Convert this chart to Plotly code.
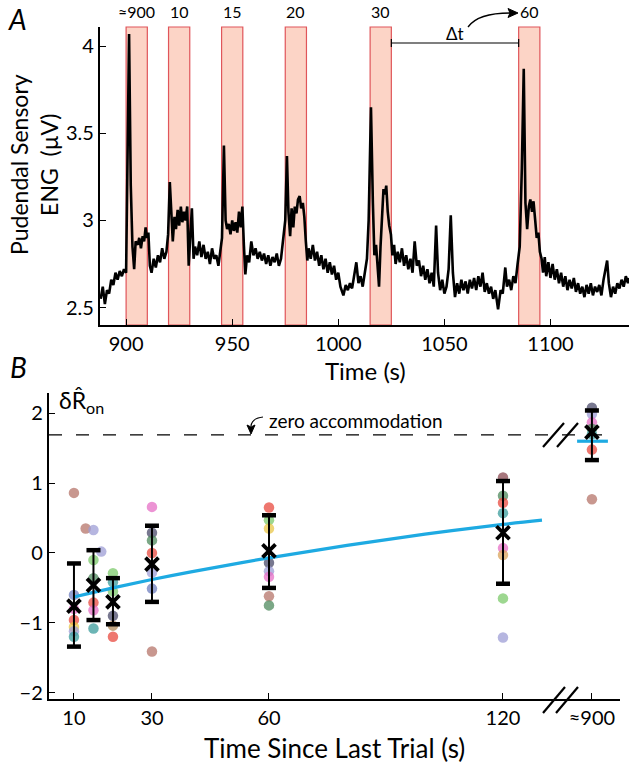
import plotly.graph_objects as go

W, H = 633, 766
FONT = "Lato"

# ---------------- Panel A data ----------------
eng_t = [888, 889, 890, 891, 892, 893, 894, 895, 896, 897, 898, 899, 900, 900.7, 901.4, 902.2, 903, 903.8, 904.5,
         905.5, 906.2, 907, 907.8, 908.5, 909.2, 909.8, 910.5, 911.2, 912, 913, 914, 915, 916, 917, 918, 919, 919.8,
         920.6, 921.3, 922, 922.8, 923.5, 924.3, 925, 925.8, 926.5, 927.3, 928, 928.8, 929.5, 930.2, 931, 931.8,
         932.5, 933.5, 934.5, 935.5, 936.5, 937.5, 938.5, 939.5, 940.5, 941.5, 942.5, 943.5, 944.5, 945.2, 946.1,
         946.9, 947.6, 948.4, 949.2, 950, 950.8, 951.6, 952.4, 953.2, 954, 954.8, 955.5, 956.2, 957, 958, 959, 960,
         961, 962, 963, 964, 965, 966, 967, 968, 969, 970, 971, 972, 973, 974, 975, 975.8, 976.5, 977.3, 978, 978.8,
         979.5, 980.3, 981, 981.8, 982.5, 983.3, 984, 984.7, 985.4, 986, 987, 988, 989, 990, 991, 992, 993, 994, 995,
         996, 997, 998, 999, 1000, 1001, 1002.4, 1003.5, 1004.5, 1005.5, 1006.5, 1007.5, 1008.5, 1009.5, 1010.5,
         1011.5, 1012.5, 1013.5, 1014.3, 1015.4, 1016.3, 1017, 1017.8, 1018.5, 1019.2, 1019.9, 1020.6, 1021.3, 1022,
         1022.6, 1023.3, 1024, 1024.8, 1025.5, 1026.3, 1027, 1028, 1029, 1030, 1031, 1032, 1033, 1034, 1035, 1036,
         1037, 1038, 1039, 1040, 1041, 1042, 1043, 1044, 1045, 1046.1, 1047, 1048, 1049, 1050, 1051, 1052, 1053,
         1054, 1055, 1056, 1057, 1058, 1059, 1060, 1061, 1062, 1063, 1064, 1065, 1066, 1067, 1068, 1069, 1070, 1071,
         1072, 1073, 1074, 1075.3, 1076.5, 1077.5, 1078.7, 1079.5, 1080.5, 1081.5, 1082.5, 1083.5, 1084.5, 1085.5,
         1086.5, 1087.4, 1088.2, 1089, 1089.8, 1090.5, 1091.3, 1092, 1092.8, 1093.5, 1094.3, 1095, 1095.8, 1096.5,
         1097.3, 1098, 1099, 1100, 1101, 1102, 1103, 1104, 1105, 1106, 1107, 1108, 1109, 1110, 1111, 1112, 1113,
         1114, 1115, 1116, 1117, 1118, 1119, 1120, 1121, 1122, 1123, 1124, 1125, 1126.7, 1127.5, 1128.5, 1129.5,
         1130.5, 1131.5, 1132.5, 1133.5, 1134.5, 1135.5, 1136.5, 1137]
eng_v = [2.55, 2.62, 2.52, 2.60, 2.58, 2.66, 2.63, 2.70, 2.66, 2.71, 2.68, 2.72, 2.70, 3.3, 4.07, 3.2, 2.85, 2.72, 2.88,
         2.86, 2.90, 2.84, 2.91, 2.88, 2.96, 2.90, 2.93, 2.74, 2.70, 2.78, 2.73, 2.80, 2.76, 2.84, 2.78, 2.82, 2.92,
         3.22, 3.05, 2.88, 3.02, 2.95, 3.06, 2.97, 3.08, 2.99, 3.05, 3.00, 3.08, 2.74, 2.90, 3.07, 2.78,
         2.85, 2.80, 2.88, 2.79, 2.86, 2.78, 2.82, 2.75, 2.84, 2.78, 2.80, 2.74, 2.82, 2.90, 3.43,
         3.0, 2.95, 2.98, 2.92, 3.00, 2.94, 2.99, 2.93, 3.05, 2.96, 3.08, 2.86, 2.69, 2.80, 2.76, 2.88, 2.80,
         2.84, 2.78, 2.82, 2.77, 2.81, 2.75, 2.80, 2.74, 2.79, 2.76, 2.81, 2.74, 2.78, 2.88, 3.0, 3.37, 3.05, 2.91, 3.07, 2.96,
         3.08, 3.04, 3.12, 3.14, 3.07, 3.10, 3.02, 2.88, 2.77, 2.84, 2.78, 2.86, 2.77, 2.82, 2.74, 2.80, 2.72, 2.78, 2.70,
         2.76, 2.69, 2.74, 2.66, 2.70, 2.62, 2.57, 2.63, 2.60, 2.64, 2.61, 2.70, 2.76, 2.64, 2.68,
         2.62, 2.70, 2.78, 3.0, 3.65, 3.1, 2.80, 2.86, 2.70, 2.62, 2.85, 3.05, 3.18, 3.15,
         3.20, 3.05, 2.97, 2.92, 2.80, 2.86, 2.75, 2.82, 2.76, 2.84, 2.74, 2.80, 2.72, 2.78, 2.70, 2.88,
         2.74, 2.77, 2.68, 2.74, 2.66, 2.72, 2.64, 2.70, 2.62, 2.97, 2.70, 2.60, 2.66, 2.58, 2.62, 2.72, 3.03,
         2.70, 2.56, 2.64, 2.58, 2.66, 2.60, 2.65, 2.58, 2.66, 2.61, 2.67, 2.60, 2.68, 2.62, 2.70, 2.59, 2.64, 2.58,
         2.62, 2.55, 2.60, 2.49, 2.60, 2.58, 2.73, 2.62, 2.66, 2.60, 2.68, 2.64, 2.75, 2.85,
         3.3, 3.87, 3.1, 2.95, 3.08, 3.12, 3.05, 3.11, 3.0, 2.90, 2.93, 2.82, 2.78, 2.70,
         2.79, 2.68, 2.76, 2.67, 2.75, 2.66, 2.72, 2.64, 2.70, 2.62, 2.68, 2.60, 2.66, 2.61, 2.67, 2.59, 2.64,
         2.58, 2.62, 2.56, 2.63, 2.58, 2.64, 2.57, 2.62, 2.59, 2.63, 2.57, 2.66, 2.77, 2.64, 2.56, 2.62,
         2.58, 2.64, 2.61, 2.66, 2.62, 2.68, 2.64, 2.67]

band_start = [900, 920, 945, 975, 1015, 1085]
band_end = [910, 930, 955, 985, 1025, 1095]
band_labels = ["≈900", "10", "15", "20", "30", "60"]

a_xticks = [900, 950, 1000, 1050, 1100]
a_yticks = [2.5, 3, 3.5, 4]
a_yticktext = ["2.5", "3", "3.5", "4"]

# ---------------- Panel B data ----------------
col_x = [10, 15, 20, 30, 60, 120, 142.8]
b_xticks = [10, 30, 60, 120, 142.8]
b_xticktext = ["10", "30", "60", "120", "≈900"]

dots_x = [10, 10, 10, 10, 10, 10, 10,
          13, 15, 17, 15, 15, 15, 15, 15,
          20, 20, 20, 20, 20, 20,
          30, 30, 30, 30, 30, 30, 30,
          60, 60, 60, 60, 60, 60, 60, 60,
          120, 120, 120, 120, 120, 120, 120, 120,
          142.8, 142.8, 142.8, 142.8, 142.8, 142.8, 142.8]
dots_y = [0.86, -0.60, -0.80, -0.96, -1.06, -1.12, -1.20,
          0.35, 0.33, 0.02, -0.10, -0.36, -0.71, -0.82, -1.08,
          -0.29, -0.42, -0.55, -0.90, -1.04, -1.20,
          0.66, 0.29, 0.18, 0.00, -0.28, -0.51, -1.41,
          0.65, 0.47, 0.35, -0.14, -0.26, -0.34, -0.62, -0.75,
          1.08, 0.82, 0.72, 0.57, 0.07, -0.03, -0.65, -1.21,
          2.08, 1.99, 1.87, 1.78, 1.70, 1.48, 0.77]
dots_c = ["#b5746a", "#6f7fbf", "#e66fc6", "#e84a3f", "#e8c547", "#9e9ed6", "#3b9c9c",
          "#b5746a", "#9e9ed6", "#9e9ed6", "#7cc96b", "#4f8a5e", "#e84a3f", "#e66fc6", "#3b9c9c",
          "#7cc96b", "#3b9c9c", "#7cc96b", "#4b4b6b", "#b08a5a", "#e84a3f",
          "#e66fc6", "#4b4b6b", "#4f8a5e", "#e84a3f", "#9e9ed6", "#6f7fbf", "#b5746a",
          "#e84a3f", "#7cc96b", "#e8c547", "#4b4b6b", "#9e9ed6", "#e66fc6", "#b5746a", "#4f8a5e",
          "#8a4a52", "#4f8a5e", "#e84a3f", "#3b9c9c", "#e66fc6", "#d9a35b", "#7cc96b", "#9e9ed6",
          "#4b4b6b", "#9e9ed6", "#e66fc6", "#4f8a5e", "#3b9c9c", "#e84a3f", "#b5746a"]

mean_y = [-0.76, -0.46, -0.70, -0.16, 0.03, 0.29, 1.73]
err_hi = [-0.15, 0.04, -0.36, 0.39, 0.54, 1.03, 2.04]
err_lo = [-1.34, -0.96, -1.02, -0.70, -0.50, -0.44, 1.33]

fit_x = [10, 20, 30, 40, 60, 80, 100, 120, 130]
fit_y = [-0.63, -0.50, -0.38, -0.27, -0.07, 0.11, 0.27, 0.41, 0.47]
fit900_x = [139.0, 146.9]
fit900_y = [1.60, 1.60]
zero_acc = 1.69


def px(x):
    return x / W


def py(y):
    return 1 - y / H


fig = go.Figure()

# Panel A trace
fig.add_trace(go.Scatter(x=eng_t, y=eng_v, mode="lines", line=dict(color="black", width=2.6),
                         xaxis="x", yaxis="y", showlegend=False, hoverinfo="skip"))

# Panel B
fig.add_trace(go.Scatter(x=dots_x, y=dots_y, mode="markers", xaxis="x2", yaxis="y2", showlegend=False,
                         marker=dict(size=10.5, color=dots_c, opacity=0.75, line=dict(width=0))))
fig.add_trace(go.Scatter(x=[3.6, 147.4], y=[zero_acc, zero_acc], mode="lines", xaxis="x2", yaxis="y2",
                         showlegend=False, line=dict(color="black", width=1.3, dash="13px,14px")))
fig.add_trace(go.Scatter(x=fit_x, y=fit_y, mode="lines", xaxis="x2", yaxis="y2", showlegend=False,
                         line=dict(color="#1eaae2", width=3.2, shape="spline")))
fig.add_trace(go.Scatter(x=fit900_x, y=fit900_y, mode="lines", xaxis="x2", yaxis="y2", showlegend=False,
                         line=dict(color="#1eaae2", width=3.2)))
err_plus = [h - m for h, m in zip(err_hi, mean_y)]
err_minus = [m - l for m, l in zip(mean_y, err_lo)]
fig.add_trace(go.Scatter(x=col_x, y=mean_y, mode="markers", xaxis="x2", yaxis="y2", showlegend=False,
                         marker=dict(size=0.1, color="black"),
                         error_y=dict(type="data", array=err_plus, arrayminus=err_minus, symmetric=False,
                                      color="black", thickness=2, width=0)))
fig.add_trace(go.Scatter(x=col_x + col_x, y=err_hi + err_lo, mode="markers", xaxis="x2", yaxis="y2",
                         showlegend=False,
                         marker=dict(symbol="line-ew-open", size=10, color="black",
                                     line=dict(color="black", width=4.5))))
fig.add_trace(go.Scatter(x=col_x, y=mean_y, mode="markers", xaxis="x2", yaxis="y2", showlegend=False,
                         marker=dict(symbol="x-thin-open", size=13, color="black",
                                     line=dict(color="black", width=3.8))))

shapes = []
for s, e in zip(band_start, band_end):
    shapes.append(dict(type="rect", xref="x", yref="y domain", x0=s, x1=e, y0=0, y1=1,
                       fillcolor="#fcd4c6", line=dict(color="#e0555a", width=1.2), layer="below"))

# Δt bracket
yb = py(43)
shapes.append(dict(type="line", xref="x", yref="paper", x0=band_end[4], x1=band_start[5], y0=yb, y1=yb,
                   line=dict(color="black", width=1.2)))
for xv in [band_end[4], band_start[5]]:
    shapes.append(dict(type="line", xref="x", yref="paper", x0=xv, x1=xv, y0=py(39), y1=py(47),
                       line=dict(color="black", width=1.2)))
# curved arrow to "60"
shapes.append(dict(type="path", xref="paper", yref="paper",
                   path=f"M {px(468)},{py(27)} Q {px(478)},{py(13)} {px(510)},{py(13)}",
                   line=dict(color="black", width=1.3)))
shapes.append(dict(type="path", xref="paper", yref="paper",
                   path=f"M {px(518)},{py(13)} L {px(508)},{py(8.5)} L {px(510)},{py(13)} L {px(508)},{py(17.5)} Z",
                   fillcolor="black", line=dict(color="black", width=1)))
# curved arrow for zero accommodation
shapes.append(dict(type="path", xref="paper", yref="paper",
                   path=f"M {px(263)},{py(417)} Q {px(252)},{py(418)} {px(251)},{py(426)}",
                   line=dict(color="black", width=1.2)))
shapes.append(dict(type="path", xref="paper", yref="paper",
                   path=f"M {px(251)},{py(434)} L {px(247)},{py(425)} L {px(251)},{py(427)} L {px(255)},{py(425)} Z",
                   fillcolor="black", line=dict(color="black", width=1)))

# axis-break slashes
for x0 in [543, 556]:
    shapes.append(dict(type="line", xref="paper", yref="paper", x0=px(x0), x1=px(x0 + 22), y0=py(713), y1=py(687),
                       line=dict(color="black", width=2.2)))
for x0 in [543, 557]:
    shapes.append(dict(type="line", xref="paper", yref="paper", x0=px(x0), x1=px(x0 + 21), y0=py(447), y1=py(423),
                       line=dict(color="black", width=2.2)))


def note(x, y, text, size, xanchor="center", angle=0, xref="paper"):
    return dict(x=x, y=y, xref=xref, yref="paper", text=text, showarrow=False, textangle=angle,
                xanchor=xanchor, yanchor="middle", font=dict(size=size, family=FONT, color="black"))


annotations = []
for s, e, lab in zip(band_start, band_end, band_labels):
    annotations.append(note((s + e) / 2, py(12), lab, 16, xref="x"))
annotations += [
    note(px(455), py(33), "Δt", 17),
    note(px(17), py(19), "<i>A</i>", 28),
    note(px(18), py(367), "<i>B</i>", 28),
    note(px(34), py(165), "Pudendal Sensory<br>ENG  (µV)", 23, angle=-90),
    note(px(365), py(370), "Time (s)", 24),
    note(px(334), py(748), "Time Since Last Trial (s)", 26),
    note(px(57), py(402), "δR̂<sub>on</sub>", 23, xanchor="left"),
    note(px(267), py(420), "zero accommodation", 19, xanchor="left"),
]

axis_common = dict(showline=True, linecolor="black", linewidth=2.4, ticks="inside", ticklen=6, tickwidth=1.3,
                   tickcolor="black", showgrid=False, zeroline=False, automargin=False,
                   tickfont=dict(size=20, family=FONT, color="black"))

fig.update_layout(
    width=W, height=H, margin=dict(l=0, r=0, t=0, b=0, pad=0), autosize=False,
    paper_bgcolor="white", plot_bgcolor="white", showlegend=False,
    font=dict(family=FONT, color="black"),
    xaxis=dict(domain=[px(100), px(629)], range=[887.7, 1137], tickvals=a_xticks, anchor="y", **axis_common),
    yaxis=dict(domain=[py(325), py(27)], range=[2.40, 4.11], tickvals=a_yticks, ticktext=a_yticktext,
               anchor="x", **axis_common),
    xaxis2=dict(domain=[px(49), px(620)], range=[3.6, 150], tickvals=b_xticks, ticktext=b_xticktext,
                anchor="y2", **axis_common),
    yaxis2=dict(domain=[py(699), py(393)], range=[-2.09, 2.29], tickvals=[-2, -1, 0, 1, 2], anchor="x2",
                **axis_common),
    shapes=shapes, annotations=annotations,
)

fig.write_html("out.html", config={"displayModeBar": False},
               post_script="document.body.style.margin='0';document.body.style.padding='0';"
                           "document.body.style.overflow='hidden';")
